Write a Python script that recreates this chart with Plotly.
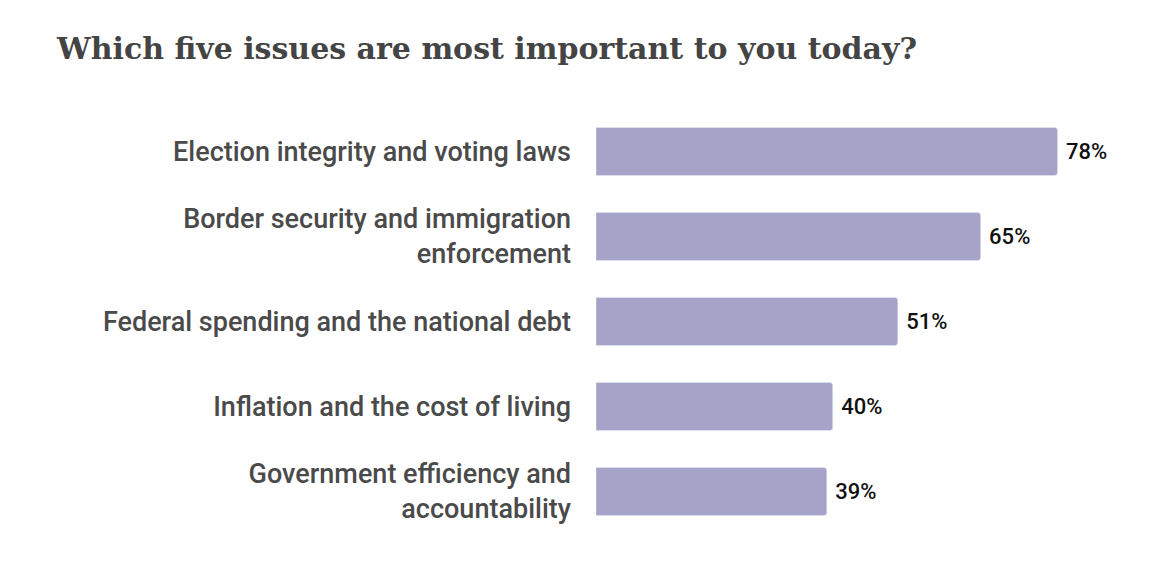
import plotly.graph_objects as go

categories = ["Election integrity and voting laws",
              "Border security and immigration<br>enforcement",
              "Federal spending and the national debt",
              "Inflation and the cost of living",
              "Government efficiency and<br>accountability"]
values = [78, 65, 51, 40, 39]
labels = [f" {v}%" for v in values]

fig = go.Figure(go.Bar(
    x=values, y=categories, orientation="h",
    marker=dict(color="#a6a3c8", cornerradius=3),
    text=labels, textposition="outside",
    textfont=dict(family="Roboto", size=22, color="#111", weight=500),
    cliponaxis=False,
))
fig.update_layout(
    width=1160, height=576,
    paper_bgcolor="white", plot_bgcolor="white",
    margin=dict(l=588, r=40, t=101, b=50),
    bargap=0.435,
    showlegend=False,
    title=dict(text="<b>Which five issues are most important to you today?</b>",
               x=49/1160, xanchor="left", y=1-40/576, yanchor="middle",
               font=dict(family="DejaVu Serif", size=30, color="#444")),
    xaxis=dict(range=[0, 89.9], visible=False),
    yaxis=dict(autorange="reversed", showgrid=False, showline=False, ticks="",
               ticklabelstandoff=24,
               tickfont=dict(family="Roboto", size=27, color="#4a4a4a", weight=500)),
)
fig.write_html("out.html")
